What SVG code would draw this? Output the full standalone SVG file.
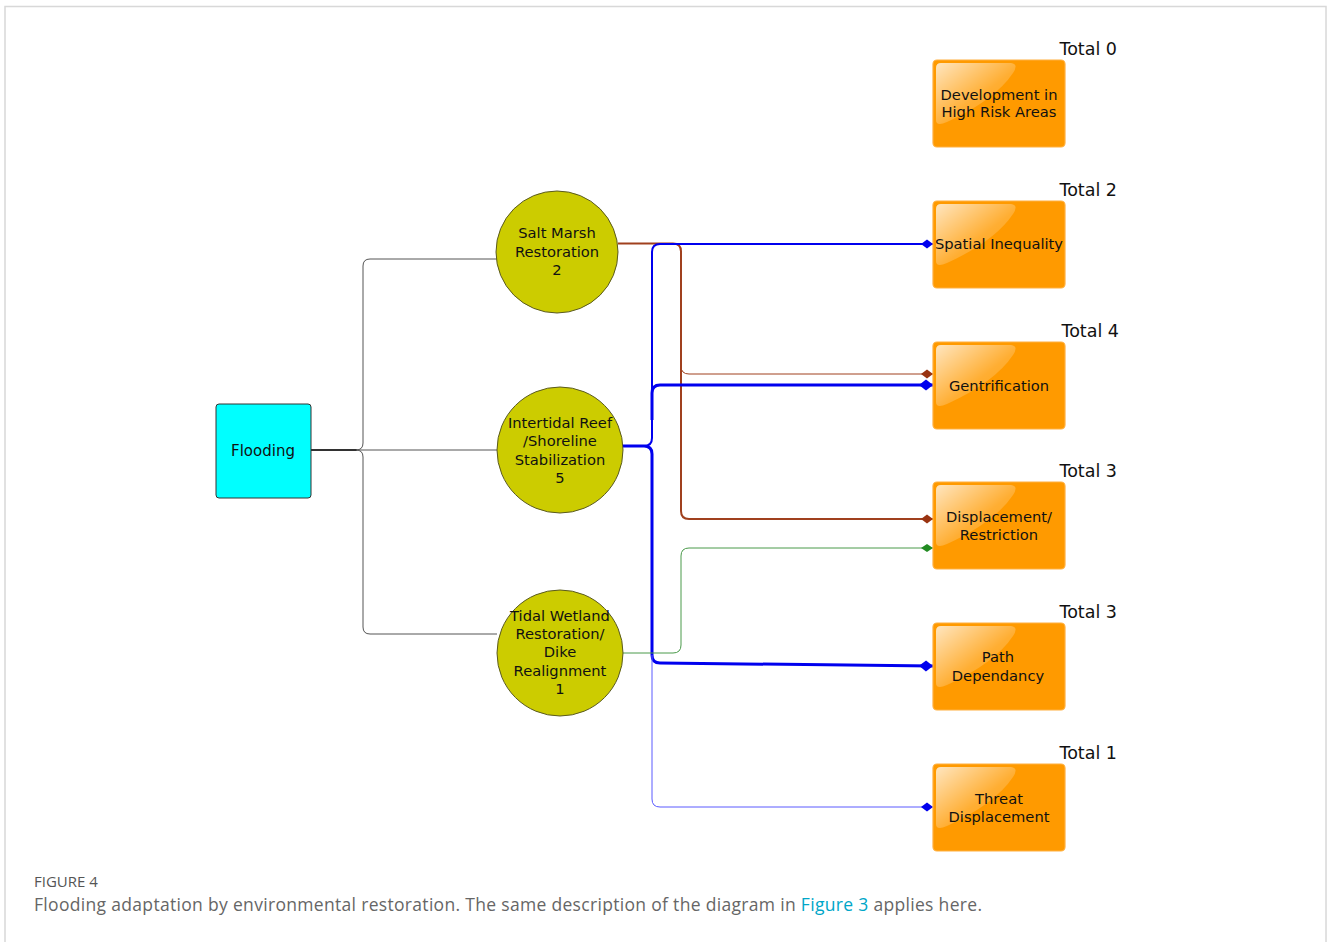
<svg xmlns="http://www.w3.org/2000/svg" width="1328" height="942" viewBox="0 0 1328 942">
<style>
.lbl{font-family:"DejaVu Sans","Verdana",sans-serif;font-size:14.7px;fill:#111;text-anchor:middle}
.tot{font-family:"DejaVu Sans","Verdana",sans-serif;font-size:17.5px;fill:#111;text-anchor:end}
.circ{fill:#cccc00;stroke:#5a5a20;stroke-width:1}
.box{fill:#ff9a00;stroke:#ffb040;stroke-width:1.2}
.hl{fill:url(#gloss)}
.c{fill:none;stroke-linecap:butt;stroke-linejoin:round}
.cap{font-family:"Open Sans","Liberation Sans",sans-serif;fill:#666}
</style>
<defs>
<linearGradient id="gloss" x1="0" y1="0" x2="1" y2="1">
<stop offset="0" stop-color="#fff" stop-opacity="0.75"/>
<stop offset="0.55" stop-color="#fff" stop-opacity="0.2"/>
<stop offset="1" stop-color="#fff" stop-opacity="0.05"/>
</linearGradient>
<marker id="dBlueL" markerUnits="userSpaceOnUse" viewBox="0 -6 14 12" markerWidth="14" markerHeight="12" refX="14" refY="0" orient="auto"><path d="M0,0 L7,-5.5 L14,0 L7,5.5 z" fill="#0000ee"/></marker>
<marker id="dBlueS" markerUnits="userSpaceOnUse" viewBox="0 -5 12 10" markerWidth="12" markerHeight="10" refX="12" refY="0" orient="auto"><path d="M0,0 L6,-4.5 L12,0 L6,4.5 z" fill="#0000ee"/></marker>
<marker id="dBrown" markerUnits="userSpaceOnUse" viewBox="0 -5 12 10" markerWidth="12" markerHeight="10" refX="12" refY="0" orient="auto"><path d="M0,0 L6,-4.5 L12,0 L6,4.5 z" fill="#993311"/></marker>
<marker id="dGreen" markerUnits="userSpaceOnUse" viewBox="0 -5 12 10" markerWidth="12" markerHeight="10" refX="12" refY="0" orient="auto"><path d="M0,0 L6,-4 L12,0 L6,4 z" fill="#228b22"/></marker>
<path id="glossShape" d="M3,8 Q3,3 8,3 H78 Q86,4 80,13 Q62,40 14,62 Q3,67 3,60 Z"/>
</defs>

<rect x="5" y="6.5" width="1321" height="1000" fill="#fff" stroke="#d8d8d8" stroke-width="1.5"/>

<g id="connectors">
<path class="c" d="M311,450 H357" stroke="#111" stroke-width="2"/>
<path class="c" d="M356,450 Q363,450 363,443 V266 Q363,259 370,259 H497" stroke="#555" stroke-width="1"/>
<path class="c" d="M311,450 H497" stroke="#555" stroke-width="1"/>
<path class="c" d="M356,450 Q363,450 363,457 V627 Q363,634 370,634 H497" stroke="#555" stroke-width="1"/>
<path class="c" d="M618,243.5 H673 Q681,243.5 681,251.5 V511 Q681,519 689,519 H933" stroke="#a0401e" stroke-width="2" marker-end="url(#dBrown)"/>
<path class="c" d="M681,355 V366 Q681,374 689,374 H933" stroke="#a0401e" stroke-width="1" marker-end="url(#dBrown)"/>
<path class="c" d="M623,446 H644 Q652,446 652,438 V252 Q652,244 660,244 H933" stroke="#0000ee" stroke-width="2" marker-end="url(#dBlueS)"/>
<path class="c" d="M652,420 V393 Q652,385 660,385 H933" stroke="#0000ee" stroke-width="3" marker-end="url(#dBlueL)"/>
<path class="c" d="M623,446 H644 Q652,446 652,454 V655 Q652,663 660,663 L933,666" stroke="#0000ee" stroke-width="3" marker-end="url(#dBlueL)"/>
<path class="c" d="M652,655 V799 Q652,807 660,807 H933" stroke="#5a5aff" stroke-width="1" marker-end="url(#dBlueS)"/>
<path class="c" d="M623,653 H673 Q681,653 681,645 V556 Q681,548 689,548 H933" stroke="#4a9a4a" stroke-width="1" marker-end="url(#dGreen)"/>
</g>

<g id="flooding">
<rect x="216" y="404" width="95" height="94" rx="3" fill="#00ffff" stroke="#333" stroke-width="1"/>
<text class="lbl" x="263" y="456" style="font-size:15px">Flooding</text>
</g>

<g id="salt-marsh">
<circle class="circ" cx="557" cy="252" r="61"/>
<text class="lbl" x="557" y="238">Salt Marsh</text>
<text class="lbl" x="557" y="257">Restoration</text>
<text class="lbl" x="557" y="275">2</text>
</g>

<g id="intertidal-reef">
<circle class="circ" cx="560" cy="450" r="63"/>
<text class="lbl" x="560" y="428">Intertidal Reef</text>
<text class="lbl" x="560" y="446">/Shoreline</text>
<text class="lbl" x="560" y="465">Stabilization</text>
<text class="lbl" x="560" y="483">5</text>
</g>

<g id="tidal-wetland">
<circle class="circ" cx="560" cy="653" r="63"/>
<text class="lbl" x="560" y="621">Tidal Wetland</text>
<text class="lbl" x="560" y="639">Restoration/</text>
<text class="lbl" x="560" y="657">Dike</text>
<text class="lbl" x="560" y="676">Realignment</text>
<text class="lbl" x="560" y="694">1</text>
</g>

<g id="development">
<rect class="box" x="933" y="60" width="132" height="87" rx="4"/>
<use href="#glossShape" class="hl" x="933" y="60"/>
<text class="lbl" x="999" y="100">Development in</text>
<text class="lbl" x="999" y="117">High Risk Areas</text>
<text class="tot" x="1117" y="55">Total 0</text>
</g>

<g id="spatial-inequality">
<rect class="box" x="933" y="201" width="132" height="87" rx="4"/>
<use href="#glossShape" class="hl" x="933" y="201"/>
<text class="lbl" x="999" y="249">Spatial Inequality</text>
<text class="tot" x="1117" y="196">Total 2</text>
</g>

<g id="gentrification">
<rect class="box" x="933" y="342" width="132" height="87" rx="4"/>
<use href="#glossShape" class="hl" x="933" y="342"/>
<text class="lbl" x="999" y="391">Gentrification</text>
<text class="tot" x="1119" y="337">Total 4</text>
</g>

<g id="displacement">
<rect class="box" x="933" y="482" width="132" height="87" rx="4"/>
<use href="#glossShape" class="hl" x="933" y="482"/>
<text class="lbl" x="999" y="522">Displacement/</text>
<text class="lbl" x="999" y="540">Restriction</text>
<text class="tot" x="1117" y="477">Total 3</text>
</g>

<g id="path-dependancy">
<rect class="box" x="933" y="623" width="132" height="87" rx="4"/>
<use href="#glossShape" class="hl" x="933" y="623"/>
<text class="lbl" x="998" y="662">Path</text>
<text class="lbl" x="998" y="681">Dependancy</text>
<text class="tot" x="1117" y="618">Total 3</text>
</g>

<g id="threat-displacement">
<rect class="box" x="933" y="764" width="132" height="87" rx="4"/>
<use href="#glossShape" class="hl" x="933" y="764"/>
<text class="lbl" x="999" y="804">Threat</text>
<text class="lbl" x="999" y="822">Displacement</text>
<text class="tot" x="1117" y="759">Total 1</text>
</g>

<g id="caption">
<text class="cap" x="34" y="887" style="font-size:15px;fill:#555">FIGURE 4</text>
<text class="cap" x="34" y="911" style="font-size:17.5px" textLength="948" lengthAdjust="spacing">Flooding adaptation by environmental restoration. The same description of the diagram in <tspan fill="#00a6c8">Figure 3</tspan> applies here.</text>
</g>
</svg>
